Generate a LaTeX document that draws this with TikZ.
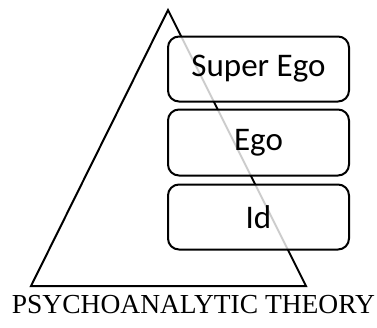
\documentclass[tikz,border=0pt]{standalone}
\usepackage{fontspec}
\setmainfont{Liberation Serif}
\newfontfamily\boxfont{Carlito}
\begin{document}
\begin{tikzpicture}[x=1pt,y=-1pt,
  layerbox/.style={draw=black, line width=2pt, rounded corners=11pt, fill=white, fill opacity=0.8, text opacity=1,
    minimum width=181pt, minimum height=65pt, inner sep=0pt, font=\boxfont\fontsize{33}{36}\selectfont},
  tri/.style={draw=black, line width=2pt, line join=miter}]
\useasboundingbox (0,0) rectangle (377,327);
\coordinate (apex) at (168,10);
\coordinate (bl) at (31,286);
\coordinate (br) at (306,286);
\draw[tri] (apex) -- (br) -- (bl) -- cycle;
\node[layerbox] (superego) at (258.5,69) {Super Ego};
\node[layerbox, minimum height=66pt] (ego) at (258.5,142.5) {Ego};
\node[layerbox, minimum height=65pt] (id) at (258.5,217) {Id};
\node[font=\fontsize{27.5}{30}\selectfont, anchor=base, inner sep=0pt] (title) at (193.5,313) {PSYCHOANALYTIC THEORY};
\end{tikzpicture}
\end{document}
